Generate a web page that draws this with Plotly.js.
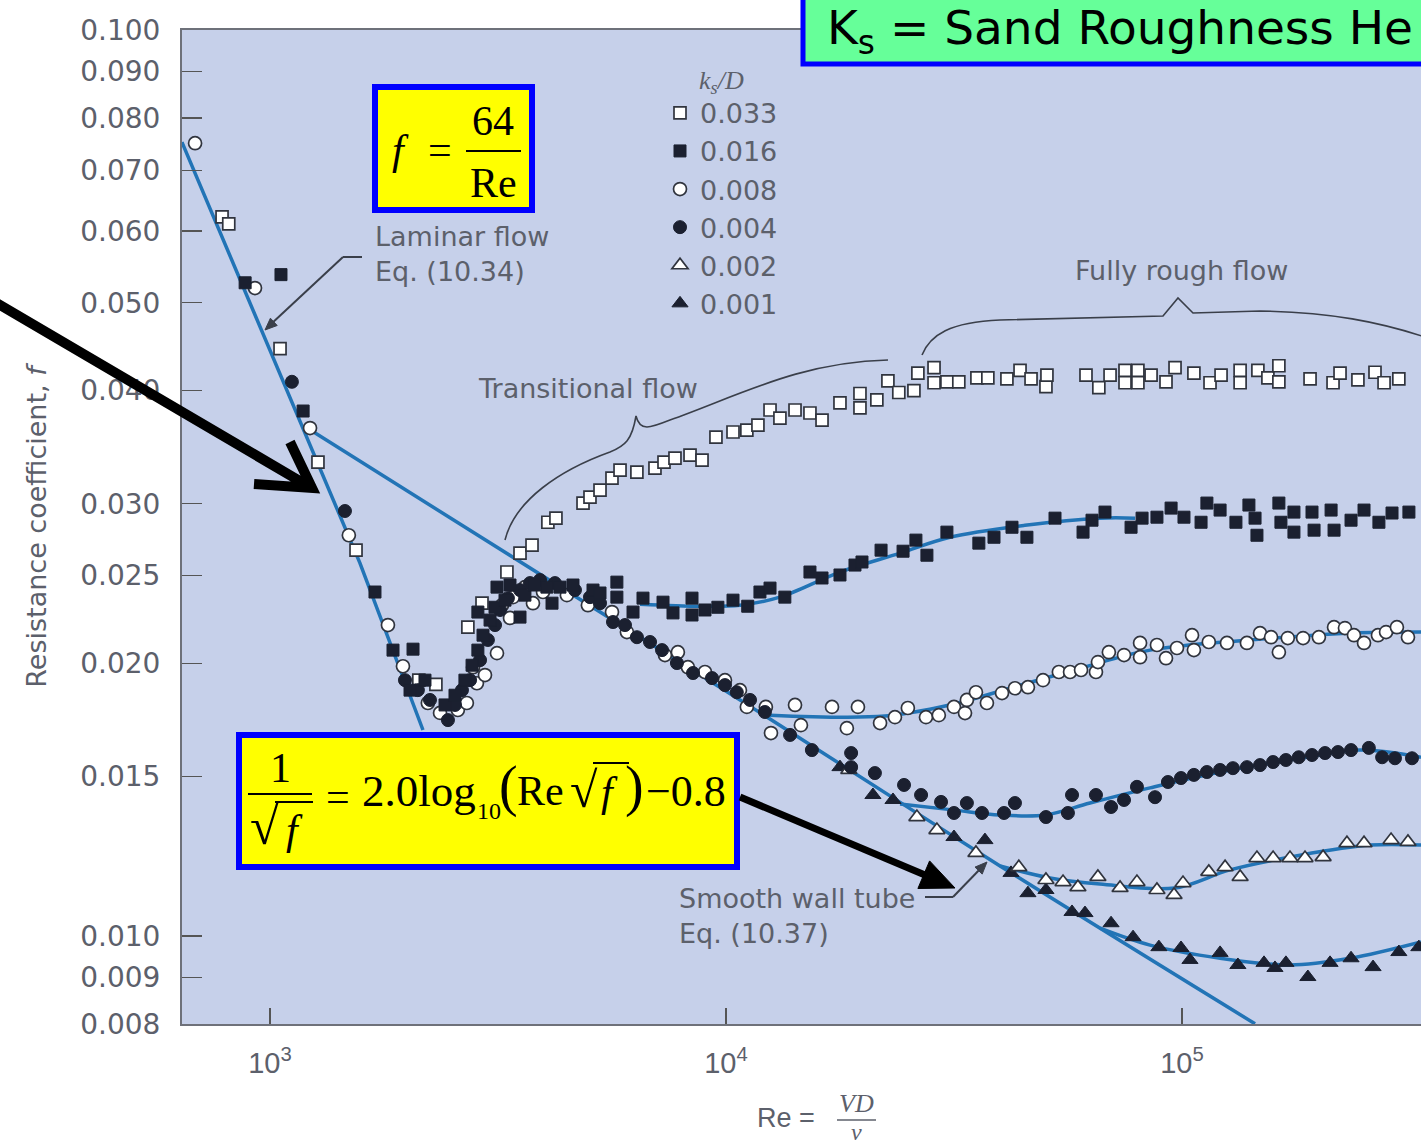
<!DOCTYPE html>
<html><head><meta charset="utf-8">
<script src="https://cdn.plot.ly/plotly-3.0.1.min.js"></script>
<style>html,body{margin:0;padding:0;background:#fff;overflow:hidden}</style>
</head><body><div id="chart" style="width:1421px;height:1144px"></div>
<script>
// ---------------- data (Re, f) ----------------
const re033 = [785, 812, 1052, 1274, 1544, 2120, 2311, 2716, 2917, 3308, 3534, 3755, 4068, 4237, 4858, 5032, 5293, 5623, 5856, 6377, 6986, 7312, 7729, 8339, 8860, 9505, 10360, 11110, 11750, 12490, 13130, 14170, 15280, 16240, 17780, 19670, 19670, 21420, 22650, 23930, 25830, 26350, 28590, 28590, 30510, 32400, 35500, 37520, 41310, 44140, 46660, 50310, 50560, 61580, 65710, 69540, 74990, 74990, 80040, 80040, 85540, 92240, 96540, 106200, 115200, 121800, 134100, 134100, 146700, 154300, 163100, 163100, 190900, 214400, 222100, 243100, 265000, 277400, 298900];
const f033 = [0.0622, 0.0611, 0.0445, 0.03335, 0.02666, 0.01916, 0.01896, 0.02192, 0.02330, 0.02522, 0.02646, 0.02700, 0.02862, 0.02892, 0.03005, 0.03051, 0.03106, 0.03202, 0.03268, 0.03251, 0.03284, 0.03335, 0.03369, 0.03395, 0.03352, 0.03554, 0.03600, 0.03618, 0.03664, 0.03807, 0.03730, 0.03807, 0.03778, 0.03711, 0.03876, 0.0397, 0.03827, 0.03906, 0.0410, 0.0398, 0.0400, 0.0418, 0.0424, 0.0408, 0.0409, 0.0409, 0.0413, 0.0413, 0.0412, 0.0421, 0.0412, 0.0404, 0.0416, 0.0416, 0.0403, 0.0416, 0.0421, 0.0408, 0.0421, 0.0408, 0.0416, 0.0409, 0.0424, 0.0418, 0.0408, 0.0416, 0.0421, 0.0408, 0.0421, 0.0413, 0.0426, 0.0409, 0.0412, 0.0408, 0.0418, 0.0411, 0.0419, 0.0408, 0.0412];

const re016 = [882, 1057, 1182, 1699, 1861, 2059, 2028, 2187, 2420, 2545, 2676, 2774, 2857, 2932, 3038, 2857, 3115, 3146, 3276, 3360, 3534, 3623, 3811, 4048, 4154, 4325, 4618, 5109, 5293, 5764, 5764, 6253, 6576, 7276, 7652, 8423, 8423, 8993, 9598, 10360, 11160, 11870, 12490, 13460, 15280, 16240, 17780, 19180, 19870, 21880, 24450, 26090, 27580, 30510, 35850, 38700, 42380, 45700, 52660, 60670, 63480, 67780, 77320, 81740, 88120, 94640, 101000, 110100, 113400, 121200, 131300, 140200, 144600, 146000, 163100, 164800, 176000, 176000, 192800, 194800, 212300, 215500, 234800, 250700, 270300, 288800, 314500];
const f016 = [0.0526, 0.0537, 0.03797, 0.02397, 0.02068, 0.02073, 0.01868, 0.01916, 0.01799, 0.01844, 0.01916, 0.01990, 0.02068, 0.02148, 0.02232, 0.02278, 0.02306, 0.02427, 0.02348, 0.02440, 0.02249, 0.02378, 0.02440, 0.02427, 0.02330, 0.02427, 0.02440, 0.02409, 0.02391, 0.02458, 0.02366, 0.02278, 0.02360, 0.02336, 0.02273, 0.02360, 0.02261, 0.02290, 0.02306, 0.02348, 0.02312, 0.02397, 0.02421, 0.02366, 0.02522, 0.02484, 0.02503, 0.02567, 0.02587, 0.02666, 0.02659, 0.02735, 0.02632, 0.02791, 0.02714, 0.02755, 0.02826, 0.02755, 0.02892, 0.02791, 0.02877, 0.02937, 0.02826, 0.02892, 0.02899, 0.02967, 0.02899, 0.02862, 0.03005, 0.02952, 0.02862, 0.02990, 0.02892, 0.02769, 0.03005, 0.02862, 0.02937, 0.02791, 0.02937, 0.02805, 0.02952, 0.02805, 0.02877, 0.02952, 0.02862, 0.02930, 0.02937];

const re008 = [685, 927, 1224, 1489, 1814, 1957, 2219, 2360, 2582, 2702, 2788, 2843, 2961, 3146, 3227, 3360, 3411, 3623, 3773, 3969, 4478, 4979, 5623, 6063, 7348, 7843, 8250, 8993, 9948, 10730, 11110, 12230, 12550, 14170, 14600, 17080, 18410, 19470, 21770, 23470, 25050, 27450, 29290, 31620, 33430, 33750, 35330, 37340, 40300, 43020, 45930, 49570, 53700, 56820, 60060, 64760, 65420, 69120, 74620, 80920, 80920, 88120, 92240, 97490, 105200, 106200, 114500, 125500, 138800, 148300, 156800, 163100, 170600, 184300, 199600, 215500, 227700, 238300, 250700, 269000, 280200, 296000, 313000];
const f008 = [0.0750, 0.0519, 0.03636, 0.02769, 0.02204, 0.01985, 0.01808, 0.01763, 0.01776, 0.01808, 0.01980, 0.01901, 0.01941, 0.02052, 0.02318, 0.02244, 0.02366, 0.02427, 0.02330, 0.02397, 0.02378, 0.02318, 0.02278, 0.02165, 0.02042, 0.02057, 0.01980, 0.01956, 0.01916, 0.01868, 0.01790, 0.01790, 0.01675, 0.01799, 0.01709, 0.01790, 0.01696, 0.01790, 0.01718, 0.01744, 0.01785, 0.01744, 0.01753, 0.01790, 0.01762, 0.01822, 0.01858, 0.01808, 0.01854, 0.01877, 0.01882, 0.01916, 0.01956, 0.01956, 0.01966, 0.01956, 0.02006, 0.02057, 0.02042, 0.02106, 0.02031, 0.02095, 0.02026, 0.02079, 0.02148, 0.02068, 0.02111, 0.02106, 0.02106, 0.02159, 0.02137, 0.02057, 0.02132, 0.02132, 0.02137, 0.02192, 0.02187, 0.02148, 0.02106, 0.02148, 0.02165, 0.02192, 0.02137];

const re004 = [1117, 1460, 1977, 2110, 2243, 2456, 2545, 2636, 2746, 2888, 3005, 3115, 3195, 3324, 3534, 3717, 3910, 4216, 4664, 5032, 5293, 5652, 6004, 6377, 6814, 7239, 7805, 8466, 9318, 9948, 10560, 11290, 12170, 13820, 15430, 18810, 18810, 21210, 24570, 26780, 29620, 31620, 33750, 36420, 40710, 43020, 50310, 56210, 57390, 64760, 69890, 74620, 79650, 87260, 93150, 99500, 106200, 113400, 121200, 129300, 138800, 148300, 158400, 169000, 180300, 192800, 205900, 219800, 234800, 256900, 274700, 293100, 319400];
const f004 = [0.0409, 0.02945, 0.01916, 0.01868, 0.01822, 0.01731, 0.01799, 0.01868, 0.01916, 0.02016, 0.02122, 0.02204, 0.02290, 0.02360, 0.02409, 0.02452, 0.02471, 0.02452, 0.02409, 0.02366, 0.02330, 0.02221, 0.02204, 0.02137, 0.02111, 0.02068, 0.02001, 0.01951, 0.01926, 0.01892, 0.01858, 0.01822, 0.01767, 0.01667, 0.01604, 0.01592, 0.01536, 0.01513, 0.01468, 0.01431, 0.01406, 0.01367, 0.01402, 0.01367, 0.01367, 0.01402, 0.01353, 0.01367, 0.01431, 0.01431, 0.01388, 0.01413, 0.01461, 0.01423, 0.01479, 0.01494, 0.01506, 0.01517, 0.01525, 0.01532, 0.01536, 0.01544, 0.01556, 0.01564, 0.01575, 0.01584, 0.01592, 0.01596, 0.01604, 0.01613, 0.01575, 0.01571, 0.01571];

const re002 = [18590, 26220, 29010, 35330, 43870, 50310, 54840, 59120, 65400, 73140, 79650, 88120, 96060, 100500, 114500, 124300, 134100, 146000, 158400, 172500, 186100, 203900, 230000, 250700, 287400, 313000];
const f002 = [0.01525, 0.01353, 0.01309, 0.01235, 0.01191, 0.01153, 0.01147, 0.01132, 0.01162, 0.01130, 0.01147, 0.01124, 0.01110, 0.01144, 0.01177, 0.01191, 0.01162, 0.01219, 0.01219, 0.01219, 0.01219, 0.01222, 0.01266, 0.01266, 0.01276, 0.01270];

const re001 = [17780, 21000, 23240, 31620, 36970, 42170, 45930, 50310, 57390, 61270, 69890, 78100, 88980, 99500, 104100, 121200, 132600, 151300, 159900, 169000, 188800, 211200, 234800, 262400, 298900, 330600];
const f001 = [0.01536, 0.01431, 0.01413, 0.01286, 0.01276, 0.01174, 0.01115, 0.01124, 0.01063, 0.01060, 0.01033, 0.00997, 0.00972, 0.00970, 0.00941, 0.00958, 0.00929, 0.00934, 0.00922, 0.00934, 0.00901, 0.00934, 0.00945, 0.00924, 0.00960, 0.00972];

// curves drawn in the figure
const laminarRe = [641, 965, 1575, 2165];
const laminarF  = [0.0752, 0.0463, 0.0258, 0.01688];
const smoothRe  = [1224, 11000, 39900, 144600];
const smoothF   = [0.0362, 0.01808, 0.01195, 0.00800];
const c016Re = [6478, 8771, 10730, 13130, 17780, 24080, 30990, 45260, 66110, 78880];
const c016F  = [0.02324, 0.02312, 0.02318, 0.02366, 0.02522, 0.02646, 0.02755, 0.02840, 0.02892, 0.02892];
const c008Re = [12490, 22320, 30990, 41960, 59760, 85110, 141000, 233600, 334300];
const c008F  = [0.01753, 0.01749, 0.01799, 0.01877, 0.01975, 0.02068, 0.02122, 0.02159, 0.02165];
const c004Re = [24080, 31770, 39900, 50070, 62850, 85110, 121200, 181500, 245700, 334300];
const c004F  = [0.01399, 0.01377, 0.01360, 0.01360, 0.01402, 0.01457, 0.01517, 0.01571, 0.01604, 0.01575];
const c002Re = [39900, 51360, 66110, 96540, 127400, 181500, 258500, 334300];
const c002F  = [0.01195, 0.01159, 0.01141, 0.01130, 0.01183, 0.01228, 0.01260, 0.01260];
const c001Re = [66110, 85110, 121200, 172500, 233600, 334300];
const c001F  = [0.01020, 0.00977, 0.00945, 0.00929, 0.00945, 0.00985];

// axis ticks
const yTickVals = [0.008, 0.009, 0.010, 0.015, 0.020, 0.025, 0.030, 0.040, 0.050, 0.060, 0.070, 0.080, 0.090, 0.100];
const yTickText = ['0.008', '0.009', '0.010', '0.015', '0.020', '0.025', '0.030', '0.040', '0.050', '0.060', '0.070', '0.080', '0.090', '0.100'];
const xTickVals = [1000, 10000, 100000];
const xTickText = ['10<sup>3</sup>', '10<sup>4</sup>', '10<sup>5</sup>'];
const seriesNames = ['0.033', '0.016', '0.008', '0.004', '0.002', '0.001'];

// ---------------- layout helpers ----------------
const W = 1421, H = 1144, ML = 182, MT = 30, MR = 0, MB = 120;
const PW = W - ML - MR, PH = H - MT - MB;
const px = x => (x - ML) / PW;
const py = y => (H - MB - y) / PH;
const path = s => s.replace(/(-?[\d.]+),(-?[\d.]+)/g, (m, a, b) => px(+a).toFixed(5) + ',' + py(+b).toFixed(5));
const SANS = 'DejaVu Sans, Verdana, sans-serif';
const SERIF = 'Liberation Serif, Times New Roman, serif';
const GRAY = '#5c606b';
const LINEBLUE = '#2274b6';
const DARK = '#1b2030';

const seg = (x0, y0, x1, y1, color, width) => ({type: 'line', xref: 'paper', yref: 'paper', x0: px(x0), y0: py(y0), x1: px(x1), y1: py(y1), line: {color, width}, layer: 'above'});
const rect = (x0, y0, x1, y1, fill, color, width) => ({type: 'rect', xref: 'paper', yref: 'paper', x0: px(x0), y0: py(y1), x1: px(x1), y1: py(y0), fillcolor: fill, line: {color, width}, layer: 'above'});
const pth = (d, color, width, fill) => ({type: 'path', xref: 'paper', yref: 'paper', path: path(d), line: {color, width}, fillcolor: fill || 'rgba(0,0,0,0)', layer: 'above'});
const txt = (text, x, y, o) => Object.assign({text, x: px(x), y: py(y), xref: 'paper', yref: 'paper', showarrow: false, xanchor: 'center', yanchor: 'middle', font: {family: SERIF, size: 42, color: '#000'}}, o || {});
const eq = size => ({family: SERIF, size, color: '#000'});

// ---------------- traces ----------------
const lineTrace = (x, y, shape) => ({x, y, type: 'scatter', mode: 'lines', line: {color: LINEBLUE, width: 3.5, shape: shape || 'linear', smoothing: 1}, showlegend: false, hoverinfo: 'skip'});
const openM = (sym, size) => ({symbol: sym, size, color: '#ffffff', line: {color: '#30343e', width: 1.7}});
const fillM = (sym, size) => ({symbol: sym, size, color: DARK, line: {color: DARK, width: 1}});
const ptTrace = (x, y, name, marker, rank) => ({x, y, name, type: 'scatter', mode: 'markers', marker, legendrank: rank, hoverinfo: 'skip'});

const traces = [
  lineTrace(laminarRe, laminarF),
  lineTrace(smoothRe, smoothF, 'spline'),
  lineTrace(c016Re, c016F, 'spline'),
  lineTrace(c008Re, c008F, 'spline'),
  lineTrace(c004Re, c004F, 'spline'),
  lineTrace(c002Re, c002F, 'spline'),
  lineTrace(c001Re, c001F, 'spline'),
  ptTrace(re001, f001, seriesNames[5], fillM('triangle-up', 14), 6),
  ptTrace(re002, f002, seriesNames[4], openM('triangle-up', 14), 5),
  ptTrace(re033, f033, seriesNames[0], openM('square', 12), 1),
  ptTrace(re008, f008, seriesNames[2], openM('circle', 13), 3),
  ptTrace(re004, f004, seriesNames[3], fillM('circle', 13), 4),
  ptTrace(re016, f016, seriesNames[1], fillM('square', 12), 2)
];

// ---------------- decorations ----------------
const shapes = [
  // laminar formula box
  rect(375, 87, 532, 210, '#ffff00', '#0000ff', 6),
  seg(466, 151, 521, 151, '#000', 2),
  // smooth-wall formula box
  rect(239, 735, 737, 867, '#ffff00', '#0000ff', 6),
  seg(248, 794, 312, 794, '#000', 2),
  seg(275, 802, 313, 802, '#000', 2),
  seg(593, 763, 629, 763, '#000', 2),
  // green header box
  rect(803, -10, 1445, 64, '#66ff99', '#0000ff', 5),
  // callouts
  seg(343, 257, 362, 257, '#3a3f4a', 2),
  pth('M343,257 L270,325', '#3a3f4a', 2),
  pth('M265,330 L277.2,325.5 L270.4,318.2 Z', '#3a3f4a', 1, '#3a3f4a'),
  seg(925, 897, 953, 897, '#3a3f4a', 2),
  pth('M953,897 L983,866', '#3a3f4a', 2),
  pth('M987,862 L982.2,874.1 L975,867.1 Z', '#3a3f4a', 1, '#3a3f4a'),
  // braces
  pth('M505,540 C515,500 560,470 610,452 C625,446 632,440 636,416 C640,432 650,428 670,420 C740,395 800,362 888,360', '#3a3f4a', 1.6),
  pth('M922,355 C930,335 950,322 1000,320 L1163,316 L1178,298 L1193,313 L1260,311 C1330,312 1380,322 1428,338', '#3a3f4a', 1.6),
  // thick black arrows
  pth('M-5,302 L310,487 M254,484 L312,488 L290,442', '#000', 10),
  pth('M740,797 L925,875', '#000', 7),
  pth('M955,888 L917.9,888.5 L929.6,860.9 Z', '#000', 1, '#000'),
  // x title fraction bar
  seg(837, 1120, 876, 1120, GRAY, 1.5)
];

const labelFont = {family: SANS, size: 27, color: GRAY};
const annotations = [
  // f = 64/Re
  txt('<i>f</i>', 400, 150),
  txt('=', 440, 150),
  txt('64', 493, 121),
  txt('Re', 493, 183),
  // 1/sqrt(f) = 2.0 log10(Re sqrt f) - 0.8
  txt('1', 280, 768, {font: eq(42)}),
  txt('\u221A', 264, 826, {font: eq(52)}),
  txt('<i>f</i>', 294, 830, {font: eq(42)}),
  txt('=', 338, 797, {font: eq(42)}),
  txt('2.0log', 360, 791, {xanchor: 'left', font: eq(45)}),
  txt('10', 489, 811, {font: eq(24)}),
  txt('(', 508, 787, {font: eq(56)}),
  txt('Re', 540, 791, {font: eq(42)}),
  txt('\u221A', 584, 790, {font: eq(50)}),
  txt('<i>f</i>', 609, 792, {font: eq(42)}),
  txt(')', 634, 787, {font: eq(56)}),
  txt('\u22120.8', 686, 791, {font: eq(44)}),
  // header
  txt('K<sub>s</sub> = Sand Roughness He', 825, 31, {xanchor: 'left', font: {family: SANS, size: 47, color: '#000'}}),
  // region labels
  txt('Laminar flow<br>Eq. (10.34)', 373, 254, {xanchor: 'left', align: 'left', font: labelFont}),
  txt('Transitional flow', 588, 388, {font: labelFont}),
  txt('Fully rough flow', 1181, 270, {font: labelFont}),
  txt('Smooth wall tube<br>Eq. (10.37)', 677, 916, {xanchor: 'left', align: 'left', font: labelFont}),
  // x title
  txt('Re =', 786, 1118, {font: {family: 'Liberation Sans, Arial, sans-serif', size: 27, color: GRAY}}),
  txt('<i>VD</i>', 856, 1103, {font: {family: SERIF, size: 26, color: GRAY}}),
  txt('<i>\u03BD</i>', 856, 1132, {font: {family: SERIF, size: 24, color: GRAY}})
];

const layout = {
  width: W, height: H,
  margin: {l: ML, r: MR, t: MT, b: MB, pad: 0},
  paper_bgcolor: '#ffffff',
  plot_bgcolor: '#c6d0ea',
  showlegend: true,
  xaxis: {
    type: 'log', range: [2.80702, 5.52412],
    tickvals: xTickVals, ticktext: xTickText,
    ticks: 'inside', ticklen: 16, tickwidth: 1.5, tickcolor: '#555',
    ticklabelstandoff: 12,
    tickfont: {family: 'Liberation Sans, Arial, sans-serif', size: 29, color: GRAY},
    showline: true, linecolor: '#6e717a', linewidth: 2, mirror: true,
    showgrid: false, zeroline: false
  },
  yaxis: {
    type: 'log', range: [-2.09713, -1],
    tickvals: yTickVals, ticktext: yTickText,
    ticks: 'inside', ticklen: 20, tickwidth: 1.5, tickcolor: '#555',
    ticklabelstandoff: 14,
    tickfont: {family: SANS, size: 28, color: GRAY},
    showline: true, linecolor: '#6e717a', linewidth: 2,
    showgrid: false, zeroline: false,
    title: {text: 'Resistance coefficient, <i>f</i>', font: {family: SANS, size: 27, color: GRAY}, standoff: 26}
  },
  legend: {
    x: px(660), y: py(55), xanchor: 'left', yanchor: 'top',
    bgcolor: 'rgba(0,0,0,0)', borderwidth: 0,
    font: {family: SANS, size: 27, color: GRAY},
    title: {text: '<i>k<sub>s</sub>/D</i>', side: 'top center', font: {family: SERIF, size: 26, color: GRAY}},
    tracegroupgap: 0, itemwidth: 30
  },
  shapes, annotations
};

Plotly.newPlot('chart', traces, layout, {staticPlot: true, displayModeBar: false});
</script>
</body></html>
